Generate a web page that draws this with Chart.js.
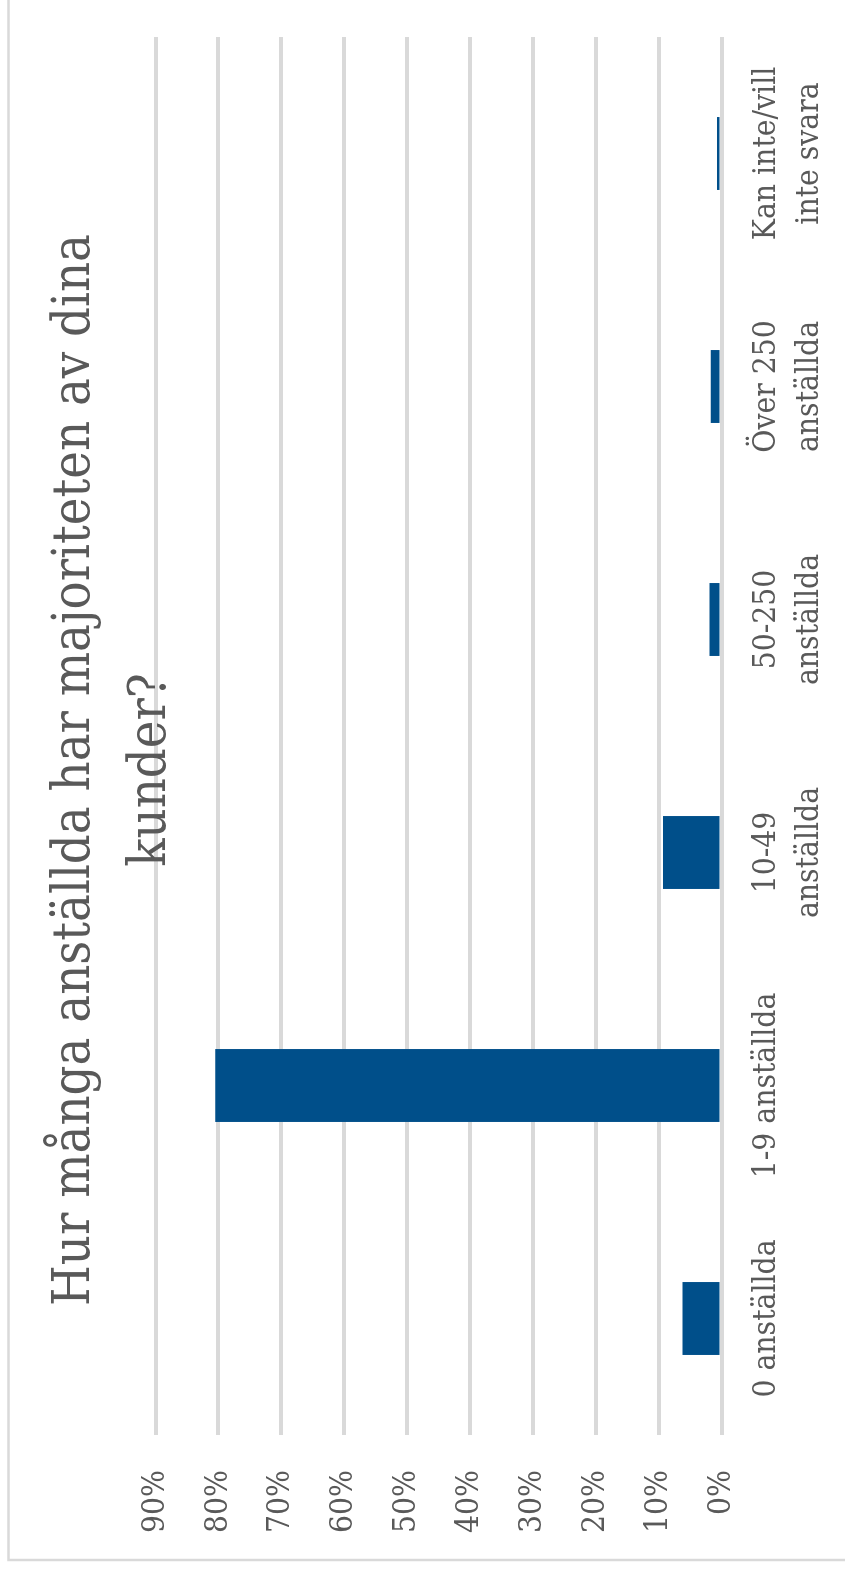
<!DOCTYPE html>
<html>
<head>
<meta charset="utf-8">
<script src="https://cdn.jsdelivr.net/npm/chart.js@4/dist/chart.umd.min.js"></script>
<style>
  html, body { margin: 0; padding: 0; background: #fff; overflow: hidden; width: 845px; height: 1571px; }
  /* the chart is laid out landscape and turned a quarter turn counter-clockwise */
  #wrap { position: absolute; left: 0; top: 0; width: 1600px; height: 845px;
          transform-origin: 0 0; transform: translate(0px, 1571px) rotate(-90deg); }
  canvas { display: block; }
</style>
</head>
<body>
<div id="wrap"><canvas id="c" width="1600" height="845"></canvas></div>
<script>
// Survey question and answers
const titleLines = ['Hur många anställda har majoriteten av dina', 'kunder?'];
const categories = [
  '0 anställda',
  '1-9 anställda',
  ['10-49', 'anställda'],
  ['50-250', 'anställda'],
  ['Över 250', 'anställda'],
  ['Kan inte/vill', 'inte svara']
];
// share of respondents, percent
const shares = [6.2, 80.5, 9.3, 1.9, 1.7, 0.7];
// value axis
const axisMax = 90;
const axisStep = 10;

const FONT = "'DejaVu Serif Condensed', 'Liberation Serif', serif";
const TEXT = '#595959';
const GRID = '#d9d9d9';

// white background and the light outer frame
const framePlugin = {
  id: 'frame',
  beforeDraw(chart) {
    const ctx = chart.ctx;
    ctx.save();
    ctx.fillStyle = '#ffffff';
    ctx.fillRect(0, 0, chart.width, chart.height);
    ctx.strokeStyle = GRID;
    ctx.lineWidth = 2.5;
    ctx.strokeRect(11, 8.5, chart.width + 100, chart.height + 100);
    ctx.restore();
  }
};

// two-line heading, centred on the whole chart frame rather than the plot
const headingPlugin = {
  id: 'heading',
  afterDraw(chart) {
    const ctx = chart.ctx;
    ctx.save();
    ctx.fillStyle = TEXT;
    ctx.font = '52px ' + FONT;
    ctx.textAlign = 'center';
    ctx.textBaseline = 'alphabetic';
    const cx = 801, firstBaseline = 89, lineStep = 76;
    titleLines.forEach((line, i) => ctx.fillText(line, cx, firstBaseline + i * lineStep));
    ctx.restore();
  }
};

new Chart(document.getElementById('c'), {
  type: 'bar',
  data: {
    labels: categories,
    datasets: [{
      data: shares,
      backgroundColor: '#004f8a',
      borderWidth: 0,
      barPercentage: 0.313,
      categoryPercentage: 1
    }]
  },
  options: {
    responsive: false,
    animation: false,
    layout: { padding: { left: 0, right: 66, top: 155.5, bottom: 0 } },
    plugins: {
      legend: { display: false },
      tooltip: { enabled: false },
      title: { display: false }
    },
    scales: {
      x: {
        border: { display: false },
        grid: { display: false, drawTicks: false },
        ticks: {
          autoSkip: false, maxRotation: 0, minRotation: 0,
          color: TEXT, padding: 23.5,
          font: { family: FONT, size: 31.5, lineHeight: 1.365 }
        },
        afterFit(s) { s.height = 123.5; }
      },
      y: {
        min: 0, max: axisMax,
        border: { display: false },
        grid: { color: GRID, lineWidth: 4, drawTicks: false },
        ticks: {
          stepSize: axisStep,
          color: TEXT, padding: 35,
          font: { family: FONT, size: 31.5 },
          callback: v => v + '%'
        },
        afterFit(s) { s.width = 136; }
      }
    }
  },
  plugins: [framePlugin, headingPlugin]
});
</script>
</body>
</html>
